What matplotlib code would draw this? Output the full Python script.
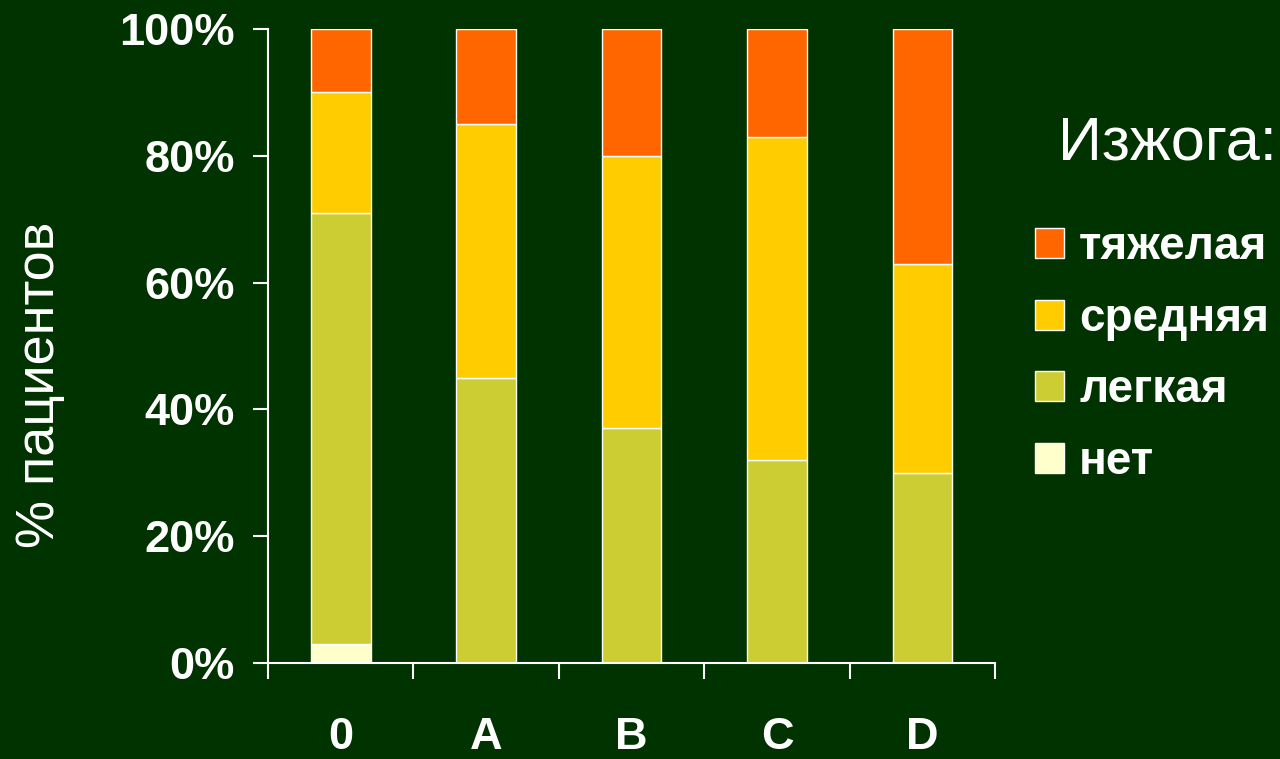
import numpy as np
import matplotlib.pyplot as plt
from matplotlib.patches import Patch
from matplotlib.ticker import FixedLocator, PercentFormatter

plt.rcParams['font.family'] = ['Liberation Sans', 'DejaVu Sans']

# группы пациентов и доля каждой степени изжоги, %
groups = ['0', 'A', 'B', 'C', 'D']
net = [3, 0, 0, 0, 0]
legkaya = [68, 45, 37, 32, 30]
srednyaya = [19, 40, 43, 51, 33]
tyazhelaya = [10, 15, 20, 17, 37]

series = [('нет', net, '#FFFFCC'),
          ('легкая', legkaya, '#CCCC33'),
          ('средняя', srednyaya, '#FFCC00'),
          ('тяжелая', tyazhelaya, '#FF6600')]

bg = '#003300'
fig = plt.figure(figsize=(12.8, 7.59), dpi=100, facecolor=bg)
ax = fig.add_axes([0.2094, 0.1265, 0.568, 0.8353], facecolor=bg)

x = np.arange(len(groups))
bottom = np.zeros(len(groups))
handles = []
for name, vals, col in series:
    ax.bar(x, vals, 0.41, bottom=bottom, color=col, edgecolor='white', linewidth=1)
    bottom += np.array(vals)
    handles.append(Patch(facecolor=col, edgecolor='white', linewidth=1, label=name))

ax.set_xlim(-0.5, len(groups) - 0.5)
ax.set_ylim(0, 100)
ax.set_yticks(np.arange(0, 101, 20))
ax.yaxis.set_major_formatter(PercentFormatter(decimals=0))
ax.set_xticks(x)
ax.set_xticklabels(groups)
ax.xaxis.set_minor_locator(FixedLocator(np.arange(-0.5, len(groups), 1)))

for s in ['top', 'right']:
    ax.spines[s].set_visible(False)
for s in ['left', 'bottom']:
    ax.spines[s].set_color('white')
    ax.spines[s].set_linewidth(1.5)

ax.tick_params(axis='y', colors='white', length=11, width=1.5, labelsize=32.5, pad=13)
ax.tick_params(axis='x', which='major', colors='white', length=0, labelsize=32.5, pad=39)
ax.tick_params(axis='x', which='minor', colors='white', length=11.5, width=1.5)
for lbl in ax.get_xticklabels() + ax.get_yticklabels():
    lbl.set_fontweight('bold')

ax.set_ylabel('% пациентов', color='white', fontsize=39, va='center')
ax.yaxis.set_label_coords(-0.313, 0.438)

fig.text(0.8266, 1 - 159 / 759, 'Изжога:', color='white', fontsize=44, va='baseline')
leg = ax.legend(handles=handles[::-1], loc='upper left', bbox_to_anchor=(1.030, 0.719),
                frameon=False, fontsize=33, handlelength=0.63, handleheight=0.63,
                handletextpad=0.33, labelspacing=0.6, borderaxespad=0)
for t in leg.get_texts():
    t.set_color('white')
    t.set_fontweight('bold')

fig.savefig('out.png', dpi=100, facecolor=bg)
